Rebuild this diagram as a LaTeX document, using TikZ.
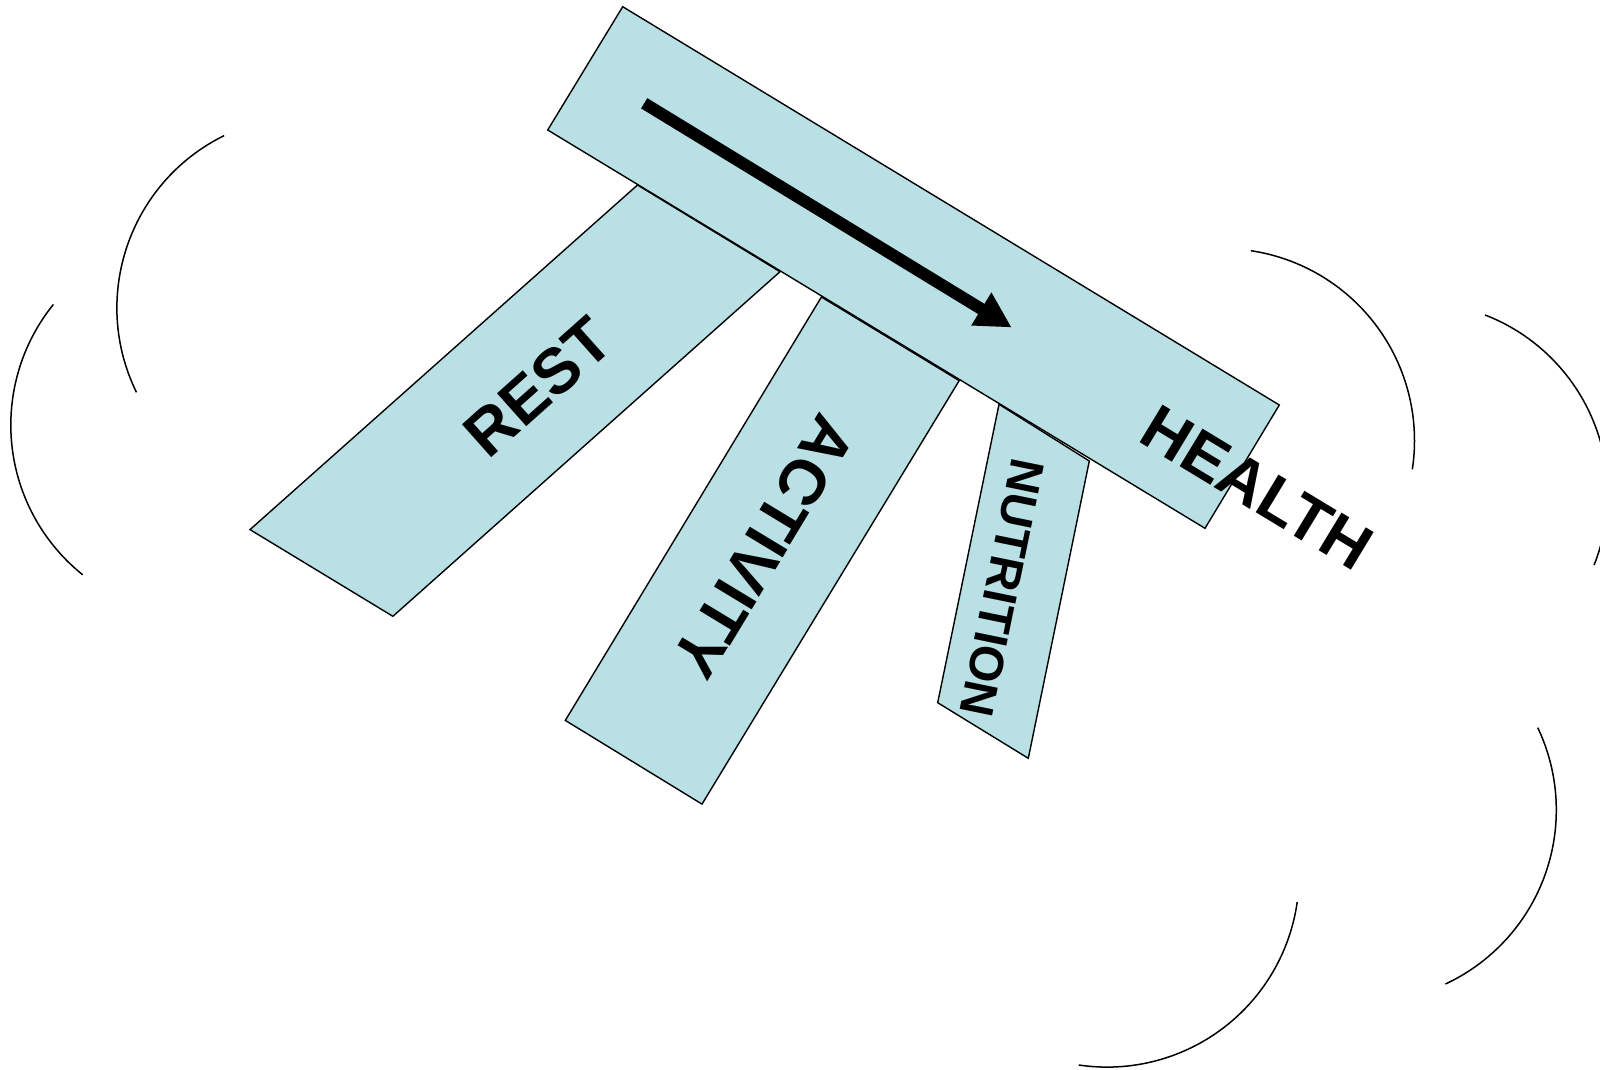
\documentclass[tikz,border=0pt]{standalone}
\usepackage{fontspec}
\setmainfont{Liberation Sans}
\usepackage{tikz}
\usetikzlibrary{arrows.meta}
\usepackage{xcolor}
\definecolor{barblue}{RGB}{185, 224, 228}

\tikzset{
  bar/.style={fill=barblue, draw=black, line width=0.7pt},
  biglabel/.style={font=\bfseries\fontsize{32}{32}\selectfont, inner sep=0pt},
  smalllabel/.style={font=\bfseries\fontsize{24}{24}\selectfont, inner sep=0pt},
}

\begin{document}
\begin{tikzpicture}[x=0.5pt, y=-0.5pt, >=Latex]
    \path[use as bounding box, clip] (0,0) rectangle (1600,1070);
    % cloud
    \foreach \cx/\cy/\a/\b in {202.8/425.0/-141.1/-231.3, 308.9/307.9/-116.2/-206.1,
        1222.5/440.6/-81.5/8.6, 1415.7/494/-68.8/21.7, 1364.3/810/-25.4/65.0, 1107.1/875.1/8.1/98.5}
      \draw[line width=0.75pt] (\cx,\cy) ++(\a:192) arc[start angle=\a, end angle=\b, radius=192];
    % legs
    \draw[bar] (637.5,185) -- (780,271.7) -- (392.9,616.3) -- (250,529.6) -- cycle;
    \draw[bar] (821.4,297) -- (959.2,380.6) -- (702,804.1) -- (565.3,720.4) -- cycle;
    \draw[bar] (999,404.3) -- (1089.3,461) -- (1028.3,758.3) -- (937.7,702.7) -- cycle;
    \node[biglabel, rotate=41.7] (rest) at (538,387) {REST};
    \node[biglabel, rotate=-121.2] (activity) at (764,547) {ACTIVITY};
    \node[smalllabel, rotate=-101.6] (nutrition) at (1002,588) {NUTRITION};
    % top bar
    \draw[bar] (622.7,6.7) -- (1279.3,405) -- (1205,528.3) -- (547.7,130) -- cycle;
    \coordinate (flowstart) at (644.2,103.3);
    \coordinate (flowend) at (1011.7,327.5);
    \draw[-{Triangle[length=17.8pt, width=18pt]}, line width=6pt] (flowstart) -- (flowend);
    \node[biglabel, rotate=-31.2] (health) at (1257,488) {HEALTH};
\end{tikzpicture}
\end{document}
